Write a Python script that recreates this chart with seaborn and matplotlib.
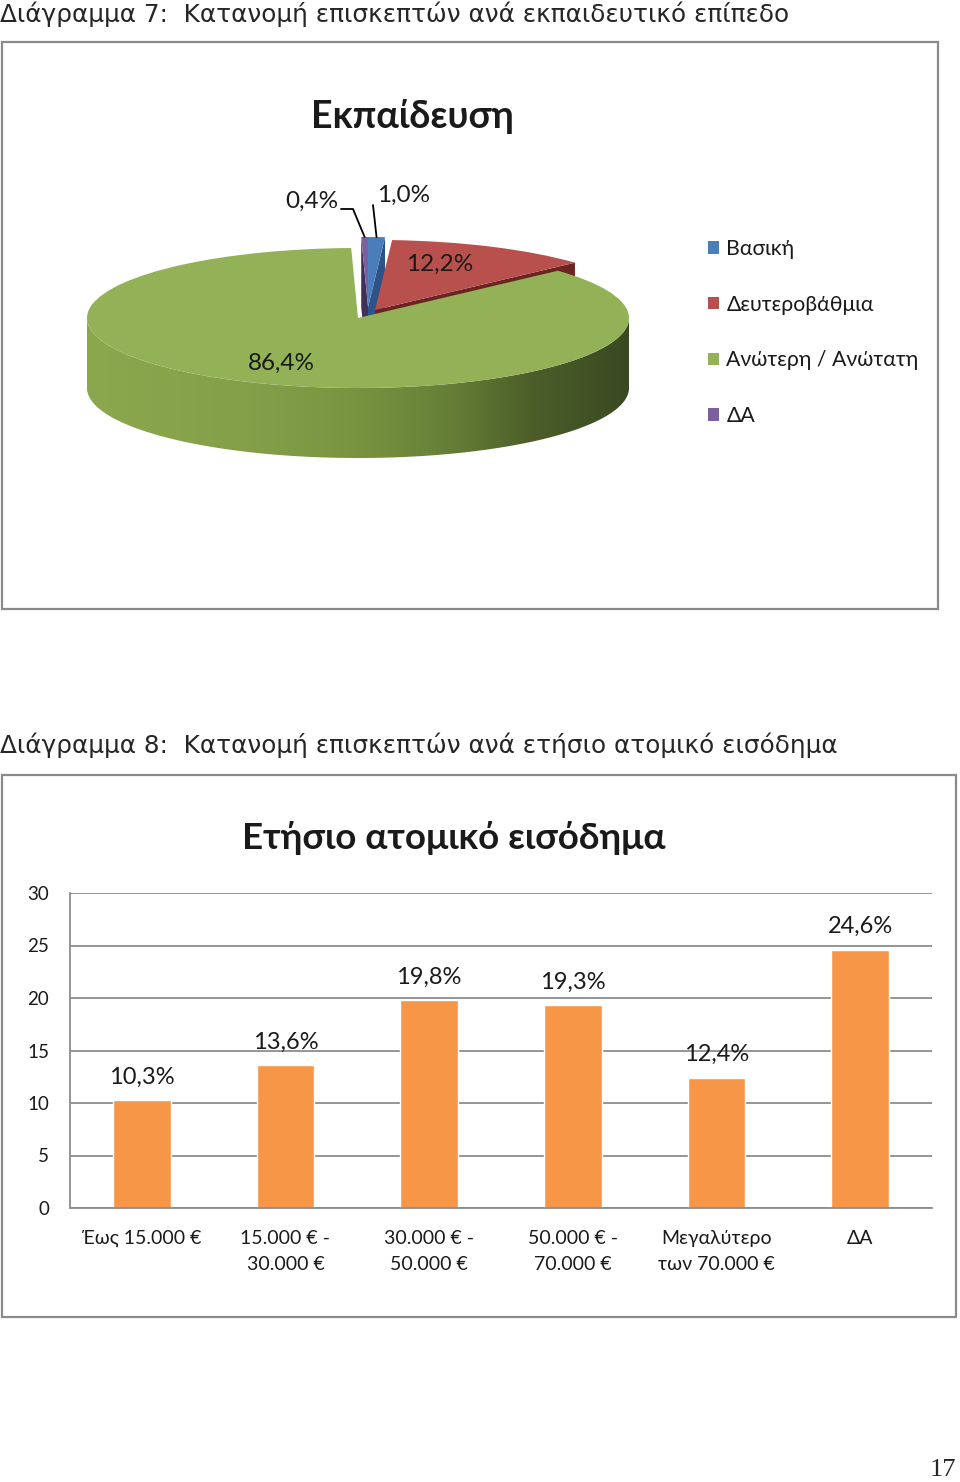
import numpy as np
import matplotlib
matplotlib.use('Agg')
import matplotlib.pyplot as plt
from matplotlib.patches import Polygon, Rectangle
from matplotlib.colors import LinearSegmentedColormap
import seaborn as sns

# --- data -----------------------------------------------------------------
edu_title = 'Εκπαίδευση'
edu_labels = ['Βασική', 'Δευτεροβάθμια', 'Ανώτερη / Ανώτατη', 'ΔΑ']
edu_values = [1.0, 12.2, 86.4, 0.4]

income_title = 'Ετήσιο ατομικό εισόδημα'
income_labels = ['Έως 15.000 €', '15.000 € -\n30.000 €', '30.000 € -\n50.000 €',
                 '50.000 € -\n70.000 €', 'Μεγαλύτερο\nτων 70.000 €', 'ΔΑ']
income_values = [10.3, 13.6, 19.8, 19.3, 12.4, 24.6]

caption_7 = 'Διάγραμμα 7:  Κατανομή επισκεπτών ανά εκπαιδευτικό επίπεδο'
caption_8 = 'Διάγραμμα 8:  Κατανομή επισκεπτών ανά ετήσιο ατομικό εισόδημα'
page_no = '17'

# --- style ----------------------------------------------------------------
top_colors = ['#4A7EBB', '#B8504D', '#93B156', '#7B5F9E']
face_colors = ['#2E5487', '#6B2422', '#5B7432', '#3F3157']
# offset of exploded slices (pie units: x, y)
slice_offsets = [(0.037, 0.157), (0.063, 0.115), (0.0, 0.0), (0.037, 0.157)]
bar_color = '#F79646'
grid_color = '#8C8C8C'
frame_color = '#8A8A8A'

W, H = 960, 1482


def fx(px):
    return px / W


def fy(py):
    return 1 - py / H


def frac(v):
    return f'{v:.1f}%'.replace('.', ',')


sns.set_style('white')
plt.rcParams['font.family'] = ['Lato', 'DejaVu Sans']

fig = plt.figure(figsize=(W / 100, H / 100), dpi=100)

# captions, frames, page number
fig.text(fx(0), fy(14), caption_7, fontsize=17.8, family=['DejaVu Sans'], va='center', ha='left')
fig.text(fx(0), fy(745), caption_8, fontsize=17.8, family=['DejaVu Sans'], va='center', ha='left')
fig.text(fx(956), fy(1470), page_no, fontsize=19, family=['Liberation Serif'], va='center', ha='right')
for (x0, y0, x1, y1) in [(2, 42, 938, 609), (2, 775, 956, 1317)]:
    fig.patches.append(Rectangle((fx(x0), fy(y1)), fx(x1) - fx(x0), fy(y0) - fy(y1),
                                 transform=fig.transFigure, fill=False,
                                 edgecolor=frame_color, lw=1.6))

# --- 3D-looking pie -------------------------------------------------------
PCX, PCY, RX, RY, DEPTH = 358, 318, 271, 70, 70
AX0, AY0, AX1, AY1 = 60, 170, 680, 490
ax_pie = fig.add_axes([fx(AX0), fy(AY1), fx(AX1) - fx(AX0), fy(AY0) - fy(AY1)])


def to_pie(px, py):
    return (px - PCX) / RX, (PCY - py) / RY


wedges, _ = ax_pie.pie(edu_values, colors=top_colors, startangle=90, counterclock=False,
                       wedgeprops=dict(linewidth=0))
depth = DEPTH / RY
for w, off in zip(wedges, slice_offsets):
    w.set_center(off)

side_cmap = LinearSegmentedColormap.from_list(
    'side', [(0.0, '#8CA84E'), (0.3, '#83A049'), (0.5, '#789440'),
             (0.67, '#667F37'), (0.82, '#4C5F29'), (1.0, '#3A4922')])


def draw_sides(ax, w, face_color, z, gradient=False):
    cx0, cy0 = w.center
    r = w.r
    t1, t2 = w.theta1, w.theta2
    ts = np.radians(np.linspace(t1, t2, 600))
    front = np.sin(ts) < 0
    if front.any():
        seg = ts[front]
        top = np.column_stack([cx0 + r * np.cos(seg), cy0 + r * np.sin(seg)])
        bot = top[::-1] - [0, depth]
        poly = Polygon(np.vstack([top, bot]), closed=True, lw=0,
                       facecolor='none' if gradient else face_color, zorder=z)
        ax.add_patch(poly)
        if gradient:
            grad = np.linspace(0, 1, 256).reshape(1, -1)
            im = ax.imshow(grad, extent=(-1, 1, -1 - depth, 0), cmap=side_cmap,
                           aspect='auto', zorder=z, interpolation='bicubic')
            im.set_clip_path(poly)
    for t, visible in [(t1, np.cos(np.radians(t1)) > 1e-6),
                       (t2, np.cos(np.radians(t2)) < -1e-6)]:
        if not visible:
            continue
        px, py = cx0 + r * np.cos(np.radians(t)), cy0 + r * np.sin(np.radians(t))
        quad = [(cx0, cy0), (px, py), (px, py - depth), (cx0, cy0 - depth)]
        ax.add_patch(Polygon(quad, closed=True, lw=0, facecolor=face_color, zorder=z))


for i, w in enumerate(wedges):
    front_slice = edu_values[i] == max(edu_values)
    z_side, z_top = (3, 4) if front_slice else (1, 2)
    draw_sides(ax_pie, w, face_colors[i], z_side, gradient=front_slice)
    w.set_zorder(z_top)

ax_pie.set_aspect('auto')
ax_pie.set_xlim((AX0 - PCX) / RX, (AX1 - PCX) / RX)
ax_pie.set_ylim((PCY - AY1) / RY, (PCY - AY0) / RY)
ax_pie.axis('off')


def rim_mid(w):
    t = np.radians((w.theta1 + w.theta2) / 2)
    return w.center[0] + np.cos(t), w.center[1] + np.sin(t)


lab_kw = dict(fontsize=17.5, color='#1a1a1a', ha='center', va='center', zorder=6)
ax_pie.text(*to_pie(440, 264), frac(edu_values[1]), **lab_kw)
ax_pie.text(*to_pie(281, 363), frac(edu_values[2]), **lab_kw)
ax_pie.text(*to_pie(312, 201), frac(edu_values[3]), **lab_kw)
ax_pie.text(*to_pie(404, 195), frac(edu_values[0]), **lab_kw)
# leader lines
tip = rim_mid(wedges[3])
p0, p1 = to_pie(341, 209), to_pie(353, 209)
ax_pie.plot([p0[0], p1[0], tip[0]], [p0[1], p1[1], tip[1]], color='black', lw=1.3,
            zorder=6, clip_on=False)
tip = rim_mid(wedges[0])
p0 = to_pie(373, 205)
ax_pie.plot([p0[0], tip[0]], [p0[1], tip[1]], color='black', lw=1.3, zorder=6, clip_on=False)

fig.text(fx(412), fy(116), edu_title, fontsize=27, fontweight='bold', ha='center',
         va='center', color='#1a1a1a')

ax_pie.legend(wedges, edu_labels, loc='upper left', bbox_to_anchor=(fx(708), fy(239)),
              bbox_transform=fig.transFigure, frameon=False, fontsize=15.3,
              handlelength=0.52, handleheight=0.52, handletextpad=0.35,
              labelspacing=1.68, borderpad=0, borderaxespad=0, labelcolor='#1a1a1a')

# --- bar chart ------------------------------------------------------------
ax_bar = fig.add_axes([fx(70), fy(1208), fx(932) - fx(70), fy(893) - fy(1208)])
sns.barplot(x=income_labels, y=income_values, color=bar_color, saturation=1,
            width=0.4, errorbar=None, ax=ax_bar)
ax_bar.bar_label(ax_bar.containers[0], labels=[frac(v) for v in income_values],
                 padding=9, fontsize=17, color='#1a1a1a')
ax_bar.set_ylim(0, 30)
ax_bar.set_xlim(-0.5, len(income_values) - 0.5)
ax_bar.set_yticks(range(0, 31, 5))
ax_bar.set_xticks(np.arange(-0.5, len(income_values), 1.0), minor=True)
ax_bar.yaxis.grid(True, color=grid_color, lw=1.3)
ax_bar.set_axisbelow(True)
ax_bar.set_xlabel('')
ax_bar.set_ylabel('')
for side in ['top', 'right']:
    ax_bar.spines[side].set_visible(False)
for side in ['left', 'bottom']:
    ax_bar.spines[side].set_color(grid_color)
    ax_bar.spines[side].set_linewidth(1.3)
ax_bar.tick_params(axis='x', which='major', length=0, pad=15.5, labelsize=14, labelcolor='#1a1a1a')
ax_bar.tick_params(axis='x', which='minor', length=5, width=1.3, color=grid_color, direction='out')
ax_bar.tick_params(axis='y', length=5, width=1.3, color=grid_color, direction='out', pad=10,
                   labelsize=13.5, labelcolor='#1a1a1a')
for lab in ax_bar.get_xticklabels():
    lab.set_linespacing(1.7)

fig.text(fx(454), fy(838), income_title, fontsize=26.5, fontweight='bold', ha='center',
         va='center', color='#1a1a1a')

fig.savefig('out.png', dpi=100, facecolor='white')
